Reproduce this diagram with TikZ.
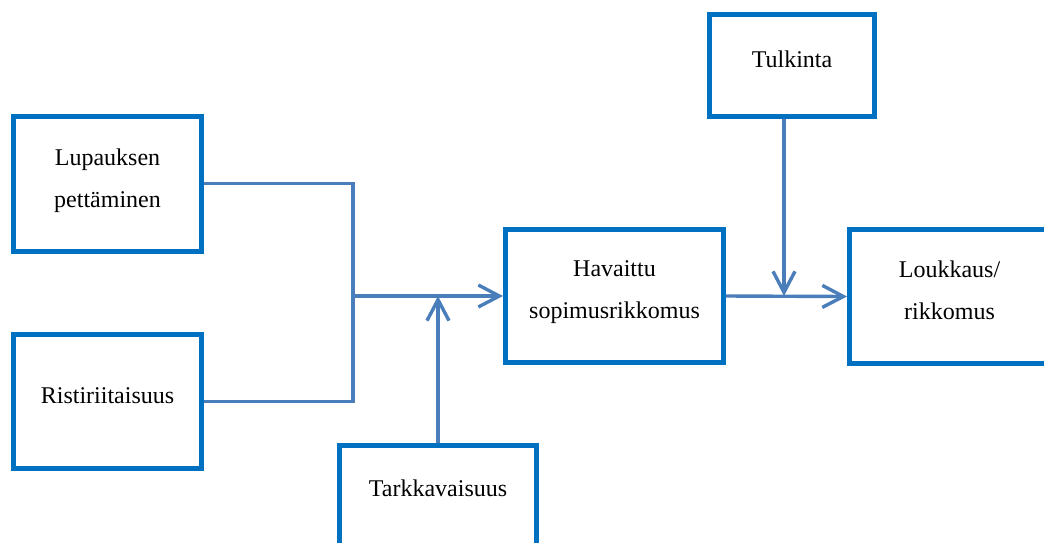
\documentclass[tikz,border=0pt]{standalone}
\usepackage{fontspec}
\setmainfont{Liberation Serif}
\usetikzlibrary{arrows.meta}
\definecolor{boxblue}{RGB}{0,112,192}
\definecolor{linkblue}{RGB}{74,126,187}
\tikzset{>/.tip={Straight Barb[length=10.5pt,width=11pt]}}

\begin{document}
\begin{tikzpicture}[x=0.5pt,y=-0.5pt,
  box/.style={draw=boxblue,line width=2.5pt,align=center,inner sep=0pt,
    text depth=6pt,font=\fontsize{12}{21}\selectfont},
  link/.style={draw=linkblue,line width=1.7pt}]
\useasboundingbox (0,0) rectangle (1044,542);
\clip (0,0) rectangle (1044,542);

\node[box,minimum width=94pt,minimum height=67.25pt] (lupaus) at (107.5,183.75) {Lupauksen\\pettäminen};
\node[box,minimum width=94pt,minimum height=67pt] (ristiriita) at (107.5,401.5) {Ristiriitaisuus};
\node[box,minimum width=109pt,minimum height=66.5pt] (havaittu) at (614.5,296) {Havaittu\\sopimusrikkomus};
\node[box,minimum width=100pt,minimum height=67pt] (loukkaus) at (949.5,296.5) {Loukkaus/\\rikkomus};
\node[box,minimum width=82.5pt,minimum height=51pt] (tulkinta) at (792,65.5) {Tulkinta};
\node[box,minimum width=98.5pt,minimum height=55pt,text depth=12pt] (tarkka) at (438,500) {Tarkkavaisuus};

\coordinate (jn) at (353,296);

\draw[link] (lupaus.east) -| (jn);
\draw[link] (ristiriita.east) -| (jn);
\draw[link,->] (jn) -- (havaittu.west);
\draw[link,->] (tarkka.north) -- (tarkka.north |- jn);
\draw[link,->] (havaittu.east) -- (loukkaus.west);
\draw[link,->] ([xshift=-4pt]tulkinta.south) -- ([xshift=-4pt]tulkinta.south |- havaittu.east);
\end{tikzpicture}
\end{document}
